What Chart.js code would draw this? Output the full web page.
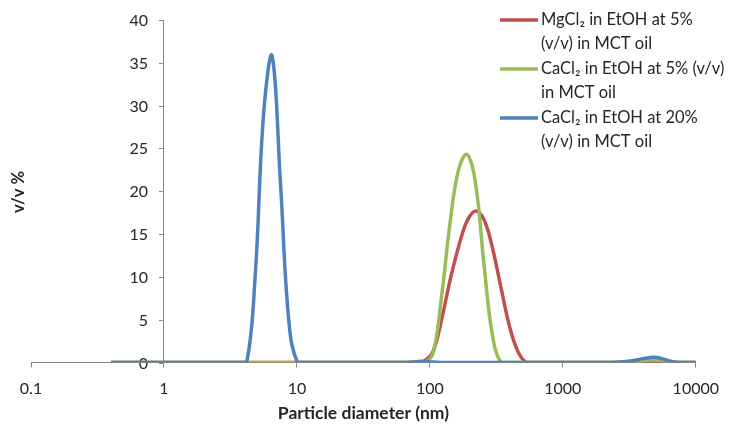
<!DOCTYPE html>
<html>
<head>
<meta charset="utf-8">
<script src="https://cdn.jsdelivr.net/npm/chart.js@4.4.0/dist/chart.umd.min.js"></script>
<style>
  html, body { margin: 0; padding: 0; background: #fff; }
  #wrap { width: 731px; height: 424px; }
</style>
</head>
<body>
<div id="wrap"><canvas id="psd-chart" width="731" height="424"></canvas></div>
<script>
// size classes of the instrument (nm)
const sizeBins = [
  0.4, 0.4632, 0.5365, 0.6213, 0.7195, 0.8332, 0.9649, 1.117, 1.294, 1.499,
  1.736, 2.01, 2.328, 2.696, 3.122, 3.615, 4.187, 4.849, 5.615, 6.503,
  7.531, 8.721, 10.1, 11.7, 13.54, 15.69, 18.17, 21.04, 24.36, 28.21,
  32.67, 37.84, 43.82, 50.75, 58.77, 68.06, 78.82, 91.28, 105.7, 122.4,
  141.8, 164.2, 190.1, 220.2, 255, 295.3, 342, 396.1, 458.7, 531.2,
  615.1, 712.4, 825, 955.4, 1106, 1281, 1484, 1718, 1990, 2305,
  2669, 3091, 3580, 4145, 4801, 5560, 6439, 7456, 8635, 10000
];

// v/v % per size class
const mgcl2Eth5 = [
  0, 0, 0, 0, 0, 0, 0, 0, 0, 0,
  0, 0, 0, 0, 0, 0, 0, 0, 0, 0,
  0, 0, 0, 0, 0, 0, 0, 0, 0, 0,
  0, 0, 0, 0, 0, 0, 0, 0.2, 1.3, 5.0,
  9.6, 13.5, 16.5, 17.7, 16.7, 13.4, 8.8, 4.3, 1.3, 0,
  0, 0, 0, 0, 0, 0, 0, 0, 0, 0,
  0, 0, 0, 0, 0, 0, 0, 0, 0, 0
];
const cacl2Eth5 = [
  0, 0, 0, 0, 0, 0, 0, 0, 0, 0,
  0, 0, 0, 0, 0, 0, 0, 0, 0, 0,
  0, 0, 0, 0, 0, 0, 0, 0, 0, 0,
  0, 0, 0, 0, 0, 0, 0, 0, 1.1, 7.7,
  16.3, 22.5, 24.3, 21.0, 11.5, 3.2, 0, 0, 0, 0,
  0, 0, 0, 0, 0, 0, 0, 0, 0, 0,
  0, 0, 0.1, 0.25, 0.3, 0.25, 0.1, 0, 0, 0
];
const cacl2Eth20 = [
  0, 0, 0, 0, 0, 0, 0, 0, 0, 0,
  0, 0, 0, 0, 0, 0, 0, 10.0, 29.0, 35.8,
  20.8, 4.6, 0, 0, 0, 0, 0, 0, 0, 0,
  0, 0, 0, 0, 0, 0, 0.1, 0.15, 0.05, 0,
  0, 0, 0, 0, 0, 0, 0, 0, 0, 0,
  0, 0, 0, 0, 0, 0, 0, 0, 0, 0,
  0.05, 0.15, 0.3, 0.5, 0.6, 0.45, 0.15, 0, 0, 0
];

const seriesNames = [
  'MgCl₂ in EtOH at 5%\n(v/v) in MCT oil',
  'CaCl₂ in EtOH at 5% (v/v)\nin MCT oil',
  'CaCl₂ in EtOH at 20%\n(v/v) in MCT oil'
];
const seriesColors = ['#C0504D', '#9BBB59', '#4F81BD'];
const xTickValues = [0.1, 1, 10, 100, 1000, 10000];
const yAxisCrossAt = 1; // excel puts the value axis at x = 1 on a log axis

function toPoints(values) {
  return values.map((v, i) => ({ x: sizeBins[i], y: v }));
}

const textColor = '#262626';
const axisColor = '#868686';
const fontFamily = 'Lato, "Open Sans", sans-serif';

// chart.js puts labels of an axis placed at a value right on the line,
// so the y labels and ticks are drawn here, left of the axis
const yAxisLabels = {
  id: 'yAxisLabels',
  beforeDatasetsDraw(chart) {
    const ctx = chart.ctx;
    const yScale = chart.scales.y;
    const axisX = Math.round(chart.scales.x.getPixelForValue(yAxisCrossAt));
    ctx.save();
    ctx.strokeStyle = axisColor;
    ctx.lineWidth = 1;
    ctx.fillStyle = textColor;
    ctx.font = '16px ' + fontFamily;
    ctx.textAlign = 'right';
    ctx.textBaseline = 'middle';
    yScale.ticks.forEach(t => {
      const py = Math.round(yScale.getPixelForValue(t.value)) + 0.5;
      ctx.beginPath();
      ctx.moveTo(axisX - 5, py);
      ctx.lineTo(axisX, py);
      ctx.stroke();
      ctx.fillText(String(t.value), axisX - 16, py);
    });
    ctx.restore();
  }
};

// legend sits inside the plot area on the right, like the excel one
const overlayText = {
  id: 'overlayText',
  afterDraw(chart) {
    const ctx = chart.ctx;
    ctx.save();
    ctx.font = '16.5px ' + fontFamily;
    ctx.textBaseline = 'middle';
    ctx.textAlign = 'left';
    seriesNames.forEach((name, i) => {
      const y0 = 20 + i * 49;
      ctx.strokeStyle = seriesColors[i];
      ctx.lineWidth = 3.5;
      ctx.beginPath();
      ctx.moveTo(500, y0);
      ctx.lineTo(538, y0);
      ctx.stroke();
      ctx.fillStyle = textColor;
      name.split('\n').forEach((line, j) => {
        ctx.fillText(line, 541, y0 + j * 23.5);
      });
    });
    // y axis title, far left
    ctx.translate(19, 192);
    ctx.rotate(-Math.PI / 2);
    ctx.textAlign = 'center';
    ctx.font = 'bold 16.5px ' + fontFamily;
    ctx.fillText('v/v %', 0, 0);
    ctx.restore();
  }
};

const chart = new Chart(document.getElementById('psd-chart'), {
  type: 'line',
  data: {
    datasets: [
      { label: seriesNames[0], data: toPoints(mgcl2Eth5), borderColor: seriesColors[0], order: 2 },
      { label: seriesNames[1], data: toPoints(cacl2Eth5), borderColor: seriesColors[1], order: 1 },
      { label: seriesNames[2], data: toPoints(cacl2Eth20), borderColor: seriesColors[2], order: 0 }
    ]
  },
  options: {
    responsive: false,
    animation: false,
    layout: { padding: { left: 31, right: 33, top: 20, bottom: 0 } },
    elements: {
      point: { radius: 0 },
      line: { tension: 0.4, borderWidth: 3.5, fill: false }
    },
    plugins: {
      legend: { display: false },
      tooltip: { enabled: false }
    },
    scales: {
      x: {
        type: 'logarithmic',
        min: 0.1,
        max: 10000,
        afterBuildTicks: axis => {
          axis.ticks = xTickValues.map(v => ({ value: v }));
        },
        afterFit: axis => {
          axis.height = 61.5;
        },
        ticks: {
          callback: v => String(v),
          autoSkip: false,
          maxRotation: 0,
          padding: 12,
          color: textColor,
          font: { family: fontFamily, size: 16 }
        },
        grid: { drawOnChartArea: false, tickLength: 5, color: axisColor },
        border: { color: axisColor },
        title: {
          display: true,
          text: 'Particle diameter (nm)',
          color: textColor,
          font: { family: fontFamily, size: 17.5, weight: 'bold' },
          padding: { top: 4, bottom: 0 }
        }
      },
      y: {
        position: { x: yAxisCrossAt },
        min: 0,
        max: 40,
        ticks: { stepSize: 5, display: false },
        grid: { drawOnChartArea: false, drawTicks: false, color: axisColor },
        border: { color: axisColor }
      }
    }
  },
  plugins: [yAxisLabels, overlayText]
});
</script>
</body>
</html>
